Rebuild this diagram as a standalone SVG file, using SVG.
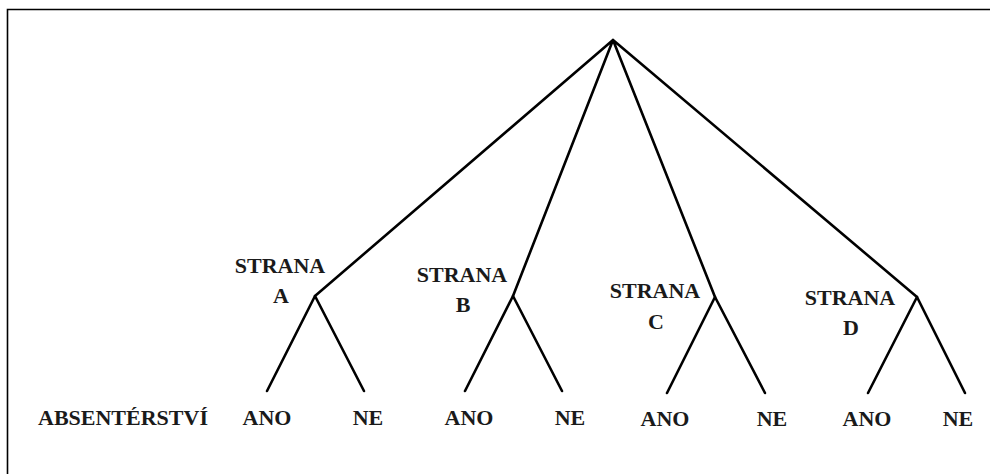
<svg xmlns="http://www.w3.org/2000/svg" width="990" height="474" viewBox="0 0 990 474">
<style>
.l{stroke:#000;stroke-width:2.6;fill:none;stroke-linecap:round;stroke-linejoin:round}
.t{font-family:"Liberation Serif","DejaVu Serif",serif;font-weight:bold;font-size:22px;fill:#1a1a1a;text-anchor:middle}
.f{stroke:#000;stroke-width:1.6;fill:none}
</style>
<rect width="990" height="474" fill="#fff"/>
<path class="f" d="M7.5 474 V9.5 H990"/>
<g id="connectors">
<path class="l" d="M315 296 L613 40 M513 296 L613 40 M715 297 L613 40 M917 297 L613 40"/>
<path class="l" d="M267 391 L315 296 L364 391"/>
<path class="l" d="M465 391 L513 296 L562 391"/>
<path class="l" d="M667 393 L715 297 L765 393"/>
<path class="l" d="M868 393 L917 297 L965 393"/>
</g>
<g id="node-A"><text class="t" x="280" y="273">STRANA</text><text class="t" x="281" y="303">A</text></g>
<g id="node-B"><text class="t" x="462" y="282">STRANA</text><text class="t" x="463" y="312">B</text></g>
<g id="node-C"><text class="t" x="655" y="298">STRANA</text><text class="t" x="656" y="329">C</text></g>
<g id="node-D"><text class="t" x="850" y="305">STRANA</text><text class="t" x="851" y="335">D</text></g>
<g id="label-absenterstvi"><text class="t" x="123" y="425">ABSENTÉRSTVÍ</text></g>
<g id="leaf-A-ano"><text class="t" x="267" y="425">ANO</text></g>
<g id="leaf-A-ne"><text class="t" x="368" y="425">NE</text></g>
<g id="leaf-B-ano"><text class="t" x="469" y="425">ANO</text></g>
<g id="leaf-B-ne"><text class="t" x="570" y="425">NE</text></g>
<g id="leaf-C-ano"><text class="t" x="665" y="426">ANO</text></g>
<g id="leaf-C-ne"><text class="t" x="772" y="426">NE</text></g>
<g id="leaf-D-ano"><text class="t" x="867" y="426">ANO</text></g>
<g id="leaf-D-ne"><text class="t" x="958" y="426">NE</text></g>
</svg>
